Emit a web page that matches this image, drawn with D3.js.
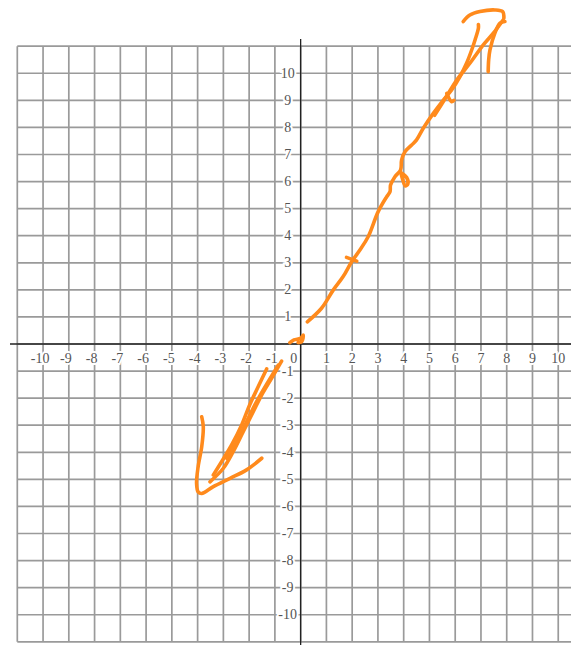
<!DOCTYPE html>
<html>
<head>
<meta charset="utf-8">
<script src="https://cdn.jsdelivr.net/npm/d3@7"></script>
<style>
  html, body { margin: 0; padding: 0; background: #fff; }
  svg { display: block; }
</style>
</head>
<body>
<div id="graph"></div>
<script>
const width = 571;
const height = 645;

// tick values on both axes
const xTicks = [-10, -9, -8, -7, -6, -5, -4, -3, -2, -1, 1, 2, 3, 4, 5, 6, 7, 8, 9, 10];
const yTicks = [10, 9, 8, 7, 6, 5, 4, 3, 2, 1, -1, -2, -3, -4, -5, -6, -7, -8, -9, -10];
const gridValues = d3.range(-11, 12);

// hand drawn orange strokes, in graph units
const upperLine = [[0.26, 0.82], [0.81, 1.32], [1.27, 2.0], [1.65, 2.49], [1.98, 3.04], [2.3, 3.47],
    [2.62, 3.96], [3.01, 4.89], [3.34, 5.44], [3.47, 5.63], [3.49, 5.87], [3.66, 6.18], [3.88, 6.43],
    [3.92, 6.8], [4.05, 7.1], [4.31, 7.35], [4.5, 7.54], [4.76, 7.97], [5.15, 8.52], [5.54, 9.01],
    [5.86, 9.38], [6.18, 9.87], [6.44, 10.37], [6.64, 10.86], [6.77, 11.23], [6.9, 11.66], [6.9, 11.8]];
const upperLine2 = [[5.2, 8.45], [5.6, 9.05], [6.06, 9.75], [6.57, 10.37], [7.09, 11.05], [7.48, 11.48], [7.86, 11.97]];
const upperHeadRight = [[7.28, 10.06], [7.3, 10.5], [7.35, 10.86], [7.54, 11.48], [7.74, 11.85], [7.93, 11.91]];
const upperHeadTop = [[6.31, 11.91], [6.57, 12.15], [6.96, 12.28], [7.54, 12.34], [7.84, 12.28], [7.89, 12.03]];
const loopMark = [[3.88, 6.37], [3.96, 6.08], [4.06, 5.84], [4.16, 5.91], [4.11, 6.16], [3.93, 6.31]];
const crossMark = [[1.78, 3.2], [2.18, 3.06]];
const tickMark = [[5.67, 9.26], [5.86, 8.95], [5.95, 9.0]];
const originHook = [[-0.42, 0.05], [-0.26, 0.15], [0.0, 0.21], [0.1, 0.33], [0.04, 0.08], [-0.1, 0.05]];
const lowerLineA = [[-0.74, -0.63], [-1.13, -1.27], [-1.51, -1.88], [-1.84, -2.5], [-2.23, -3.24], [-2.62, -3.98], [-3.0, -4.59], [-3.52, -5.09]];
const lowerLineB = [[-1.32, -0.92], [-1.65, -1.58], [-1.98, -2.25], [-2.29, -2.99], [-2.68, -3.73], [-3.07, -4.35], [-3.39, -4.84]];
const lowerLineC = [[-0.87, -0.78], [-1.26, -1.39], [-1.71, -2.13], [-2.1, -2.87], [-2.48, -3.61], [-2.87, -4.22]];
const lowerHead = [[-3.84, -2.69], [-3.78, -3.05], [-3.84, -3.79], [-3.98, -4.53], [-4.04, -5.15], [-3.98, -5.46],
    [-3.84, -5.52], [-3.39, -5.27], [-2.74, -4.96], [-2.1, -4.65], [-1.51, -4.22]];

const strokes = [upperLine, upperLine2, upperHeadRight, upperHeadTop, loopMark, crossMark, tickMark,
    originHook, lowerLineA, lowerLineB, lowerLineC, lowerHead];

const svg = d3.select("#graph")
    .append("svg")
    .attr("width", width)
    .attr("height", height);

// 25.76 px per unit across, 27.07 px per unit down
const x = d3.scaleLinear().domain([-11, 11]).range([17.3, 584.0]);
const y = d3.scaleLinear().domain([-11, 11]).range([641.8, 46.2]);

// grid
const grid = svg.append("g")
    .attr("stroke", "#9a9a9a")
    .attr("stroke-width", 1.7);

grid.selectAll("line.v")
    .data(gridValues)
    .join("line")
    .attr("class", "v")
    .attr("x1", d => x(d)).attr("x2", d => x(d))
    .attr("y1", y(11)).attr("y2", y(-11));

grid.selectAll("line.h")
    .data(gridValues)
    .join("line")
    .attr("class", "h")
    .attr("x1", x(-11)).attr("x2", width)
    .attr("y1", d => y(d)).attr("y2", d => y(d));

// axes
svg.append("line")
    .attr("x1", 10).attr("x2", width)
    .attr("y1", y(0)).attr("y2", y(0))
    .attr("stroke", "#222").attr("stroke-width", 1.3);

svg.append("line")
    .attr("x1", x(0)).attr("x2", x(0))
    .attr("y1", 39).attr("y2", height)
    .attr("stroke", "#222").attr("stroke-width", 1.3);

// tick labels with white halo over the grid
const labelStyle = sel => sel
    .attr("font-family", "'Liberation Serif', 'DejaVu Serif', serif")
    .attr("font-size", 14)
    .attr("fill", "#555")
    .attr("stroke", "#fff")
    .attr("stroke-width", 4)
    .attr("paint-order", "stroke")
    .attr("text-anchor", "middle")
    .attr("dominant-baseline", "central");

svg.append("g").selectAll("text")
    .data(xTicks)
    .join("text")
    .attr("x", d => x(d) - (d < 0 ? 3 : 0))
    .attr("y", y(0) + 14)
    .text(d => d < 0 ? "-" + Math.abs(d) : d)
    .call(labelStyle);

svg.append("g").selectAll("text")
    .data(yTicks)
    .join("text")
    .attr("x", x(0) - 13)
    .attr("y", d => y(d))
    .text(d => d < 0 ? "-" + Math.abs(d) : d)
    .call(labelStyle);

svg.append("text")
    .attr("x", x(0) - 7)
    .attr("y", y(0) + 14)
    .text("0")
    .call(labelStyle);

// orange pen strokes
const line = d3.line()
    .x(d => x(d[0]))
    .y(d => y(d[1]))
    .curve(d3.curveCatmullRom.alpha(0.5));

svg.append("g")
    .selectAll("path")
    .data(strokes)
    .join("path")
    .attr("d", line)
    .attr("fill", "none")
    .attr("stroke", "#ff8a1c")
    .attr("stroke-width", 3.6)
    .attr("stroke-linecap", "round")
    .attr("stroke-linejoin", "round");
</script>
</body>
</html>
